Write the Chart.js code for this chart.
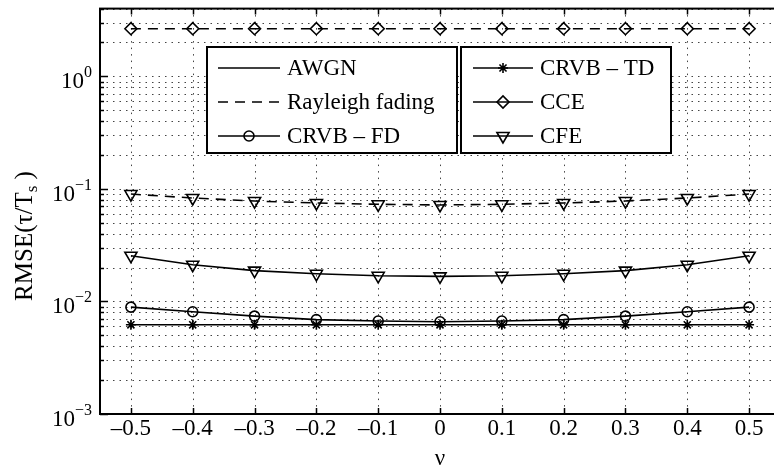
<!DOCTYPE html>
<html>
<head>
<meta charset="utf-8">
<script src="https://cdn.jsdelivr.net/npm/chart.js@4/dist/chart.umd.min.js"></script>
<style>
  html, body { margin: 0; padding: 0; background: #fff; overflow: hidden; }
  #wrap { width: 774px; height: 473px; overflow: hidden; }
  canvas { display: block; }
</style>
</head>
<body>
<div id="wrap"><canvas id="rmseChart" width="800" height="473"></canvas></div>
<script>
// normalised frequency offset
const nu = [-0.5, -0.4, -0.3, -0.2, -0.1, 0, 0.1, 0.2, 0.3, 0.4, 0.5];

// RMSE(tau/Ts) per estimator
const cceRayleigh = [2.65, 2.65, 2.65, 2.65, 2.65, 2.65, 2.65, 2.65, 2.65, 2.65, 2.65];
const cfeRayleigh = [0.090, 0.083, 0.078, 0.075, 0.073, 0.072, 0.073, 0.075, 0.078, 0.083, 0.090];
const cfeAwgn = [0.0255, 0.0212, 0.0188, 0.0176, 0.0169, 0.0167, 0.0169, 0.0176, 0.0188, 0.0212, 0.0255];
const crvbFdAwgn = [0.0089, 0.0081, 0.0074, 0.0069, 0.0067, 0.0066, 0.0067, 0.0069, 0.0074, 0.0081, 0.0089];
const crvbTdAwgn = [0.0062, 0.0062, 0.0062, 0.0062, 0.0062, 0.0062, 0.0062, 0.0062, 0.0062, 0.0062, 0.0062];

// axes
const xTicks = [-0.5, -0.4, -0.3, -0.2, -0.1, 0, 0.1, 0.2, 0.3, 0.4, 0.5];
const xTickLabels = ['\u20130.5', '\u20130.4', '\u20130.3', '\u20130.2', '\u20130.1', '0', '0.1', '0.2', '0.3', '0.4', '0.5'];
const yDecades = [1e-3, 1e-2, 1e-1, 1];
const yDecadeExps = ['\u22123', '\u22122', '\u22121', '0'];
const yMin = 1e-3, yMax = 4;

const legendLeft = ['AWGN', 'Rayleigh fading', 'CRVB \u2013 FD'];
const legendRight = ['CRVB \u2013 TD', 'CCE', 'CFE'];

const FONT = '"Liberation Serif", "Times New Roman", serif';
const DASH = [10, 7];

// minor + major log grid
const yGrid = [];
yDecades.forEach(d => {
    for (let m = 1; m <= 9; m++) {
        const v = d * m;
        if (v <= yMax * 1.0001) yGrid.push(v);
    }
});

const marker = {
    diamond: { pointStyle: 'rectRot', radius: 6, rotation: 0 },
    triDown: { pointStyle: 'triangle', radius: 7, rotation: 180 },
    circle: { pointStyle: 'circle', radius: 5, rotation: 0 },
    star: { pointStyle: 'star', radius: 5, rotation: 0 }
};

function series(values, dash, m) {
    return {
        data: nu.map((x, i) => ({ x: x, y: values[i] })),
        borderColor: '#000',
        borderWidth: 1.6,
        borderDash: dash,
        pointStyle: m.pointStyle,
        pointRadius: m.radius,
        pointRotation: m.rotation,
        pointBorderColor: '#000',
        pointBorderWidth: 1.6,
        pointBackgroundColor: 'rgba(0,0,0,0)',
        tension: 0
    };
}

function drawMarker(ctx, m, x, y) {
    ctx.save();
    ctx.strokeStyle = '#000';
    ctx.fillStyle = 'rgba(0,0,0,0)';
    ctx.lineWidth = 1.6;
    ctx.setLineDash([]);
    Chart.helpers.drawPoint(ctx, { pointStyle: m.pointStyle, radius: m.radius, rotation: m.rotation, borderWidth: 1.6 }, x, y);
    ctx.restore();
}

function drawLegendBox(ctx, box, labels, styles) {
    ctx.save();
    ctx.fillStyle = '#fff';
    ctx.fillRect(box.left, box.top, box.width, box.height);
    ctx.strokeStyle = '#000';
    ctx.lineWidth = 2;
    ctx.strokeRect(box.left, box.top, box.width, box.height);
    ctx.font = '23px ' + FONT;
    ctx.textBaseline = 'middle';
    ctx.textAlign = 'left';
    ctx.fillStyle = '#000';
    labels.forEach((label, i) => {
        const ry = box.rows[i];
        const st = styles[i];
        ctx.lineWidth = 1.6;
        ctx.setLineDash(st.dash);
        ctx.beginPath();
        ctx.moveTo(box.lineX0, ry);
        ctx.lineTo(box.lineX1, ry);
        ctx.stroke();
        ctx.setLineDash([]);
        if (st.marker) drawMarker(ctx, st.marker, (box.lineX0 + box.lineX1) / 2, ry);
        ctx.fillText(label, box.textX, ry + 1);
    });
    ctx.restore();
}

const matlabAxes = {
    id: 'matlabAxes',
    beforeDatasetsDraw(chart) {
        const { ctx, chartArea: a, scales: { x, y } } = chart;
        ctx.save();
        ctx.beginPath();
        ctx.rect(a.left, a.top, a.right - a.left, a.bottom - a.top);
        ctx.clip();
        ctx.strokeStyle = '#444';
        ctx.lineWidth = 1;
        ctx.setLineDash([1.5, 5]);
        ctx.beginPath();
        xTicks.forEach(v => {
            const px = Math.round(x.getPixelForValue(v)) + 0.5;
            ctx.moveTo(px, a.top);
            ctx.lineTo(px, a.bottom);
        });
        yGrid.forEach(v => {
            const py = Math.round(y.getPixelForValue(v)) + 0.5;
            ctx.moveTo(a.left, py);
            ctx.lineTo(a.right, py);
        });
        ctx.stroke();
        ctx.restore();
    },
    afterDatasetsDraw(chart) {
        const { ctx, chartArea: a, scales: { x, y } } = chart;
        ctx.save();

        // box and inward ticks
        ctx.strokeStyle = '#000';
        ctx.lineWidth = 2;
        ctx.setLineDash([]);
        ctx.strokeRect(a.left, a.top, a.right - a.left, a.bottom - a.top);
        ctx.lineWidth = 1.5;
        ctx.beginPath();
        xTicks.forEach(v => {
            const px = Math.round(x.getPixelForValue(v)) + 0.5;
            ctx.moveTo(px, a.bottom); ctx.lineTo(px, a.bottom - 6);
            ctx.moveTo(px, a.top); ctx.lineTo(px, a.top + 6);
        });
        yGrid.forEach(v => {
            const py = Math.round(y.getPixelForValue(v)) + 0.5;
            const len = yDecades.includes(v) ? 8 : 4;
            ctx.moveTo(a.left, py); ctx.lineTo(a.left + len, py);
        });
        ctx.stroke();

        // tick labels
        ctx.fillStyle = '#000';
        ctx.textBaseline = 'alphabetic';
        ctx.font = '23px ' + FONT;
        ctx.textAlign = 'center';
        xTicks.forEach((v, i) => {
            ctx.fillText(xTickLabels[i], x.getPixelForValue(v), a.bottom + 21);
        });
        yDecades.forEach((v, i) => {
            const py = y.getPixelForValue(v);
            ctx.textAlign = 'left';
            ctx.font = '16px ' + FONT;
            const ew = ctx.measureText(yDecadeExps[i]).width;
            ctx.font = '23px ' + FONT;
            const bw = ctx.measureText('10').width;
            const right = a.left - 8;
            ctx.fillText('10', right - ew - bw, py + 12);
            ctx.font = '16px ' + FONT;
            ctx.fillText(yDecadeExps[i], right - ew, py + 1);
        });

        // axis titles
        ctx.font = '23px ' + FONT;
        ctx.textAlign = 'center';
        ctx.fillText('\u03bd', x.getPixelForValue(0), a.bottom + 51);

        ctx.translate(32, 236);
        ctx.rotate(-Math.PI / 2);
        ctx.textAlign = 'left';
        const head = 'RMSE(\u03c4/T';
        ctx.font = '25px ' + FONT;
        const hw = ctx.measureText(head).width;
        ctx.font = '17px ' + FONT;
        const sw = ctx.measureText('s').width;
        ctx.font = '25px ' + FONT;
        const tw = ctx.measureText(' )').width;
        let cx = -(hw + sw + tw) / 2;
        ctx.fillText(head, cx, 0);
        cx += hw;
        ctx.font = '17px ' + FONT;
        ctx.fillText('s', cx, 5);
        cx += sw;
        ctx.font = '25px ' + FONT;
        ctx.fillText(' )', cx, 0);
        ctx.restore();

        // legends
        const rows = [68, 102, 136];
        drawLegendBox(ctx, { left: 207, top: 47, width: 250, height: 106, rows: rows, lineX0: 218, lineX1: 280, textX: 287 },
            legendLeft, [
                { dash: [], marker: null },
                { dash: DASH, marker: null },
                { dash: [], marker: marker.circle }
            ]);
        drawLegendBox(ctx, { left: 461, top: 47, width: 210, height: 106, rows: rows, lineX0: 473, lineX1: 533, textX: 540 },
            legendRight, [
                { dash: [], marker: marker.star },
                { dash: [], marker: marker.diamond },
                { dash: [], marker: marker.triDown }
            ]);
    }
};

new Chart(document.getElementById('rmseChart'), {
    type: 'line',
    data: {
        datasets: [
            series(crvbTdAwgn, [], marker.star),
            series(crvbFdAwgn, [], marker.circle),
            series(cfeAwgn, [], marker.triDown),
            series(cfeRayleigh, DASH, marker.triDown),
            series(cceRayleigh, DASH, marker.diamond)
        ]
    },
    options: {
        responsive: false,
        animation: false,
        layout: { padding: { left: 100, top: 4, right: 20, bottom: 59 } },
        plugins: { legend: { display: false }, tooltip: { enabled: false } },
        scales: {
            x: { type: 'linear', min: -0.55, max: 0.55, display: false },
            y: { type: 'logarithmic', min: yMin, max: yMax, display: false }
        }
    },
    plugins: [matlabAxes]
});
</script>
</body>
</html>
